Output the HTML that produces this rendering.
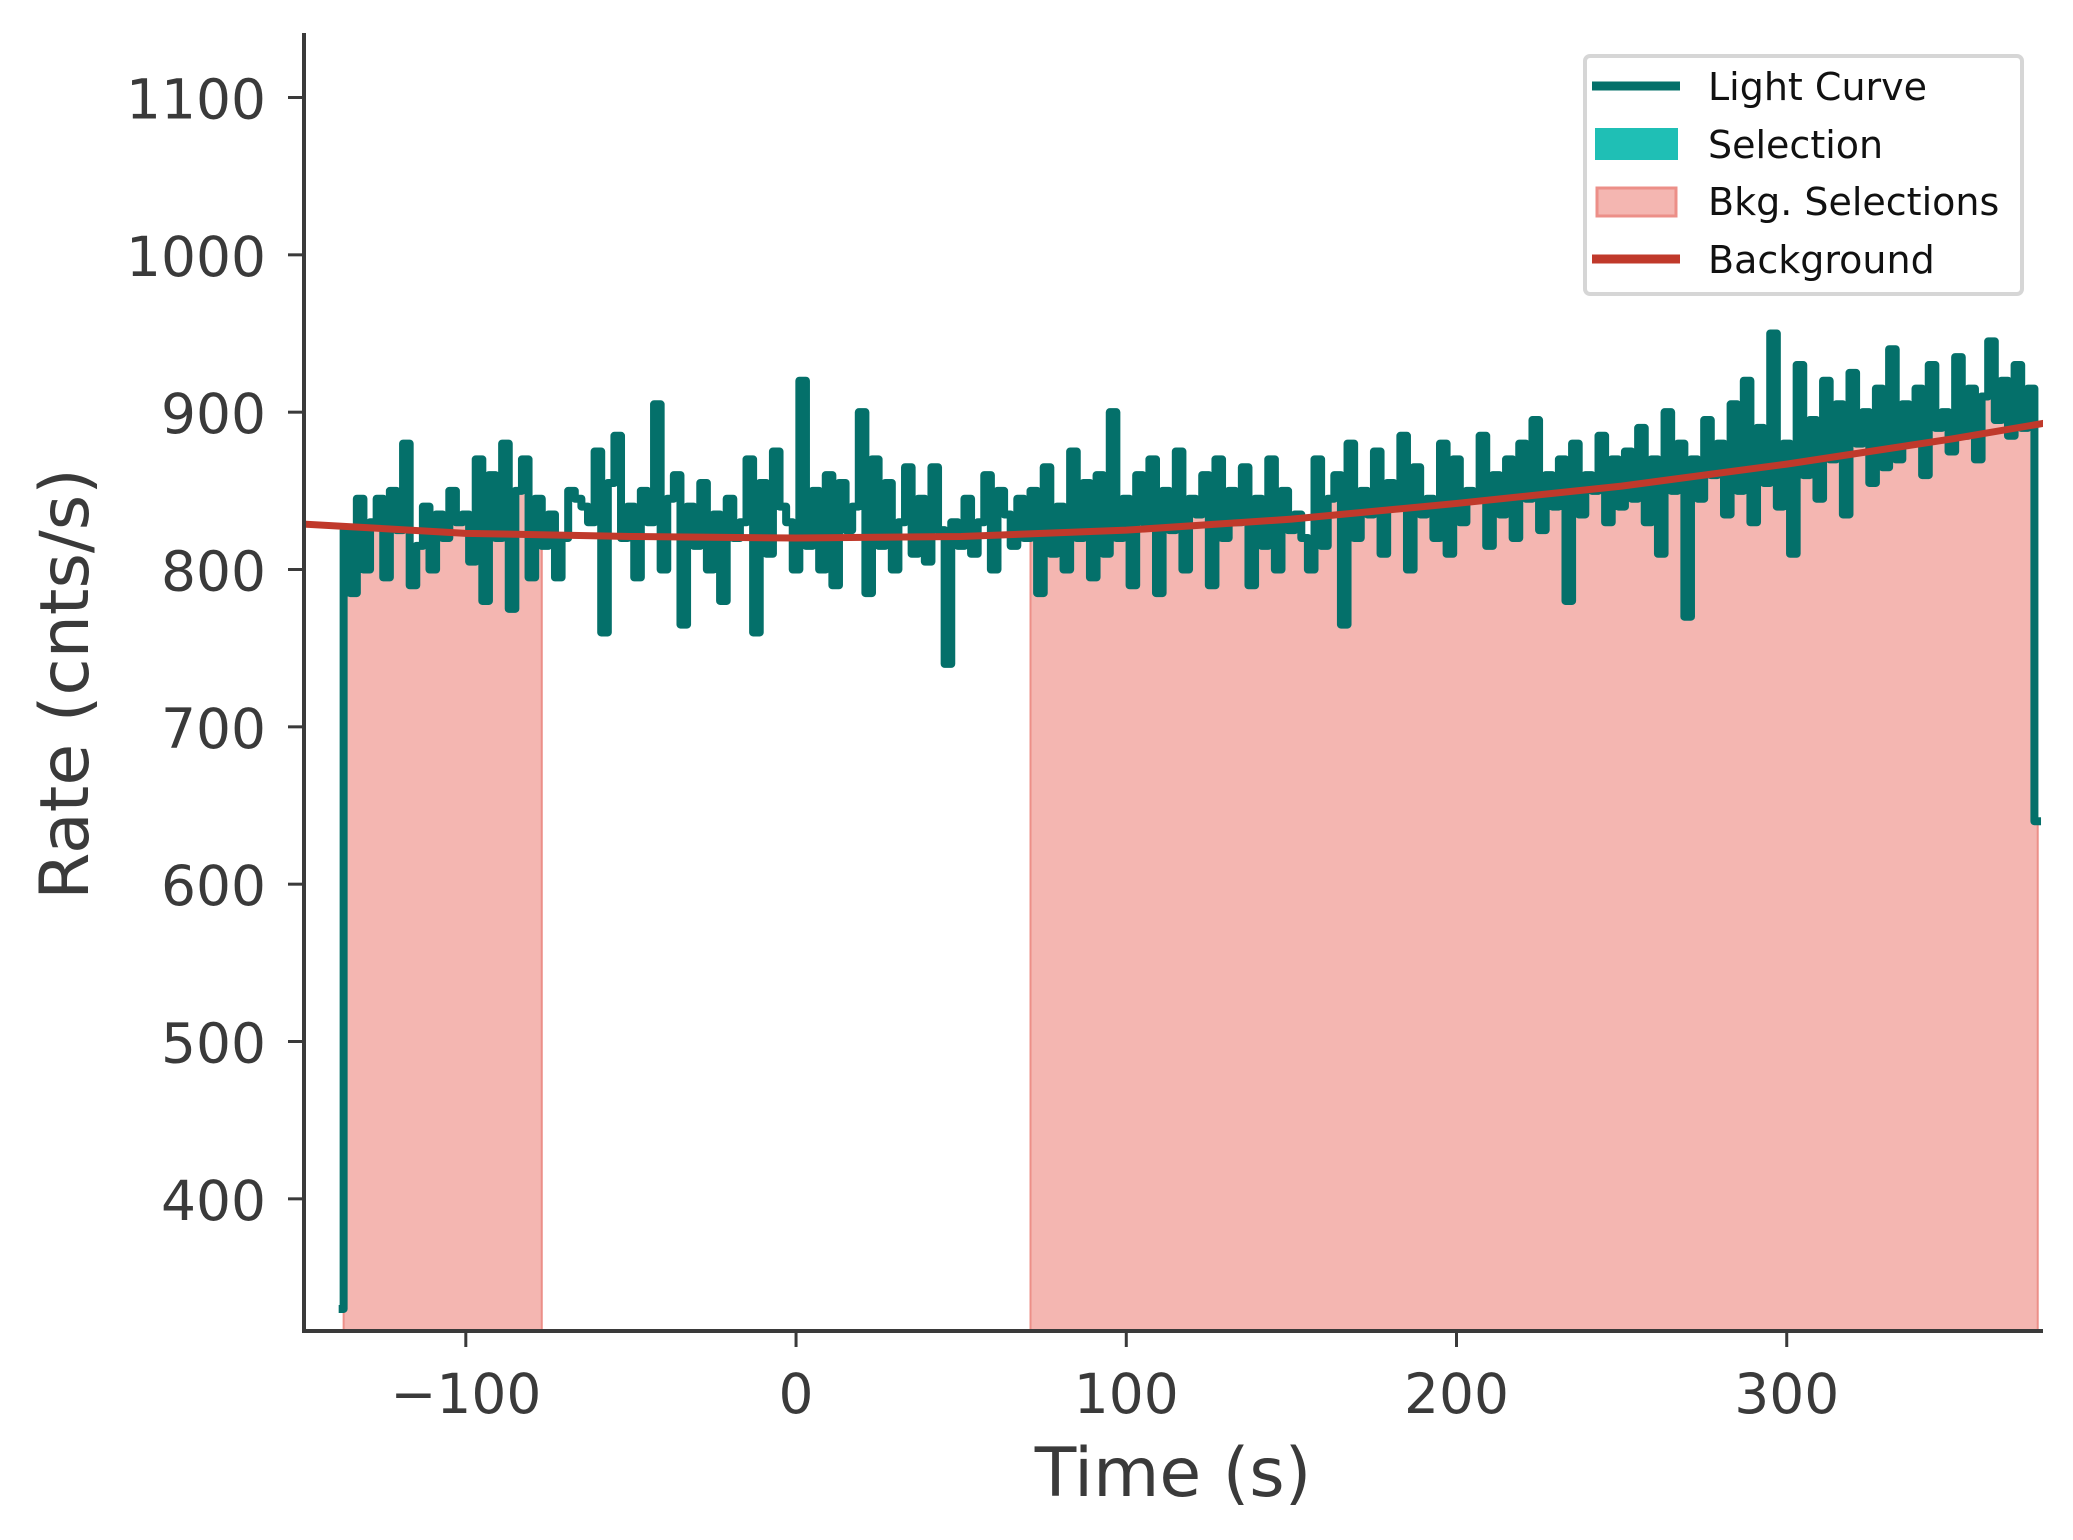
<!DOCTYPE html>
<html><head><meta charset="utf-8">
<style>
html,body{margin:0;padding:0;background:#fff;}
svg{display:block;font-family:"DejaVu Sans","Liberation Sans",sans-serif;}
</style></head>
<body>
<svg id="chart" width="2073" height="1540" viewBox="0 0 2073 1540" xmlns="http://www.w3.org/2000/svg">
<defs><clipPath id="plotclip"><rect x="304" y="33" width="1739" height="1298"/></clipPath></defs>
<g id="fills" clip-path="url(#plotclip)"></g>
<g id="lc" clip-path="url(#plotclip)"></g>
<g id="bk" clip-path="url(#plotclip)"></g>
<g id="axes"></g>
<text x="1173" y="1496" font-size="68" fill="#3a3a3a" text-anchor="middle">Time (s)</text>
<text transform="translate(88,684) rotate(-90)" font-size="68" fill="#3a3a3a" text-anchor="middle">Rate (cnts/s)</text>
<g>
<rect x="1585" y="56" width="437" height="238" rx="5" fill="#fff" stroke="#d6d6d6" stroke-width="4"/>
<line x1="1592" y1="86" x2="1680" y2="86" stroke="#04706a" stroke-width="9"/>
<text x="1708" y="100" font-size="38" fill="#111">Light Curve</text>
<rect x="1595" y="128" width="83" height="32" fill="#1fbfb5"/>
<text x="1708" y="158" font-size="38" fill="#111">Selection</text>
<rect x="1597" y="188" width="79" height="28" fill="#f4b6b1" stroke="#ec8f88" stroke-width="3"/>
<text x="1708" y="215" font-size="38" fill="#111">Bkg. Selections</text>
<line x1="1592" y1="259" x2="1680" y2="259" stroke="#c0392b" stroke-width="9"/>
<text x="1708" y="273" font-size="38" fill="#111">Background</text>
</g>
</svg>
<script>
const t0 = -137;
const binWidth = 2;
const preValue = 330;
const rates = [
825,785,845,800,830,845,795,850,825,880,790,815,840,800,835,820,850,830,835,805,870,780,860,820,880,775,850,870,795,845,
815,835,795,820,850,845,840,830,875,760,855,885,820,840,795,850,830,905,800,845,860,765,840,815,855,800,835,780,845,820,830,870,760,855,810,875,840,830,800,
920,815,850,800,860,790,855,825,840,900,785,870,815,855,800,830,865,810,845,805,865,825,740,830,815,845,810,830,860,800,850,835,815,845,820,
850,785,865,810,840,800,875,820,855,795,860,810,900,820,845,790,860,830,870,785,850,825,875,800,845,835,860,790,870,820,850,830,865,790,845,815,870,800,850,825,
835,820,800,870,815,845,860,765,880,820,850,835,875,810,855,840,885,800,865,835,845,820,880,810,870,830,850,845,885,815,860,835,870,820,880,845,895,825,860,840,870,780,880,835,860,850,885,830,870,840,
875,845,890,830,870,810,900,850,880,770,870,845,895,860,880,835,905,850,920,830,890,855,950,840,880,810,930,860,895,845,920,870,905,835,925,880,900,855,915,865,940,870,905,880,915,860,930,890,900,875,935,885,915,870,910,945,895,920,885,930,890,915,640];
const bkgRanges = [[-137,-77],[71,376]];
const bkgTimes = [-150,-100,-50,0,50,100,150,200,250,300,350,378];
const bkgRates = [829,823,821,820,821,825,832,842,853,867,883,893];
const xTicks = [-100,0,100,200,300];
const xTickLabels = ["\u2212100","0","100","200","300"];
const yTicks = [400,500,600,700,800,900,1000,1100];
const yTickLabels = ["400","500","600","700","800","900","1000","1100"];

const X0=304,X1=2043,Y0=1331,Y1=33, xmin=-149,xmax=377.6,ymin=316,ymax=1141;
const sx=v=>X0+(v-xmin)/(xmax-xmin)*(X1-X0);
const sy=v=>Y0-(v-ymin)/(ymax-ymin)*(Y0-Y1);
const NS="http://www.w3.org/2000/svg";
function mk(tag,attrs,parent){const e=document.createElementNS(NS,tag);for(const k in attrs)e.setAttribute(k,attrs[k]);parent.appendChild(e);return e;}

const fills=document.getElementById('fills');
bkgRanges.forEach((r,i)=>{
  let d=`M${sx(r[0])},${Y0}`;
  for(let k=0;k<rates.length;k++){
    const a=t0+k*binWidth,b=a+binWidth;
    const lo=Math.max(a,r[0]),hi=Math.min(b,r[1]);
    if(hi<=lo)continue;
    d+=` L${sx(lo)},${sy(rates[k])} L${sx(hi)},${sy(rates[k])}`;
  }
  d+=` L${sx(r[1])},${Y0} Z`;
  const p=mk('path',{d:d,fill:'#f4b6b1',stroke:'#ec8f88','stroke-width':2},fills);
  
  
});

const lc=document.getElementById('lc');
let d=`M${sx(t0-1.5)},${sy(preValue)} L${sx(t0)},${sy(preValue)}`;
for(let k=0;k<rates.length;k++){
  const a=t0+k*binWidth;
  d+=` L${sx(a)},${sy(rates[k])} L${sx(a+binWidth)},${sy(rates[k])}`;
}
const lcp=mk('path',{d:d,fill:'none',stroke:'#04706a','stroke-width':8,'stroke-linejoin':'round'},lc);



const bk=document.getElementById('bk');
let bd='';
bkgTimes.forEach((t,i)=>{bd+=(i?' L':'M')+sx(t)+','+sy(bkgRates[i]);});
const bkp=mk('path',{d:bd,fill:'none',stroke:'#c0392b','stroke-width':7},bk);



const ax=document.getElementById('axes');
const ly=mk('line',{x1:X0,y1:Y1,x2:X0,y2:Y0+2,stroke:'#3a3a3a','stroke-width':4},ax);


const lx=mk('line',{x1:X0-2,y1:Y0,x2:X1,y2:Y0,stroke:'#3a3a3a','stroke-width':4},ax);


xTicks.forEach((v,i)=>{
  const t=mk('line',{x1:sx(v),y1:Y0,x2:sx(v),y2:Y0+16,stroke:'#3a3a3a','stroke-width':3},ax);
  
  
  const l=mk('text',{x:sx(v),y:Y0+82,'font-size':55,fill:'#3a3a3a','text-anchor':'middle'},ax);
  l.textContent=xTickLabels[i];
  
  
});
yTicks.forEach((v,i)=>{
  const t=mk('line',{x1:X0-16,y1:sy(v),x2:X0,y2:sy(v),stroke:'#3a3a3a','stroke-width':3},ax);
  
  
  const l=mk('text',{x:266,y:sy(v)+21,'font-size':55,fill:'#3a3a3a','text-anchor':'end'},ax);
  l.textContent=yTickLabels[i];
  
  
});
</script>
</body></html>
